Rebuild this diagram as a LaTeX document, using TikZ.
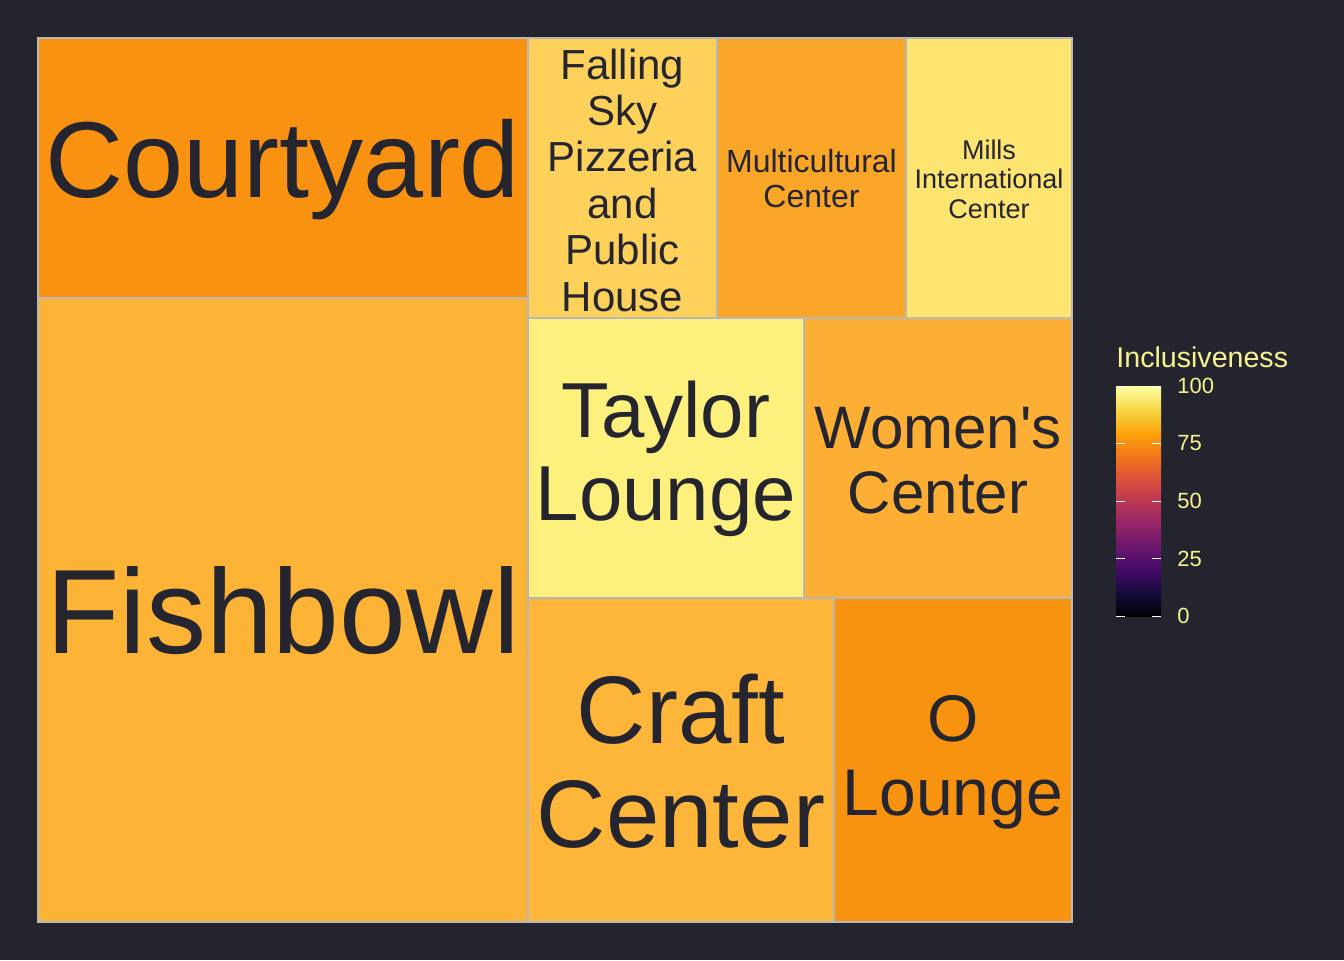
\documentclass[tikz,border=0pt]{standalone}
\usepackage{fontspec}
\setmainfont{Liberation Sans}
\usetikzlibrary{calc}
\definecolor{bg}{HTML}{24242E}
\definecolor{ink}{HTML}{25252F}
\definecolor{keyink}{HTML}{F7F48F}
\definecolor{edge}{HTML}{B8B8B8}
% tile fills
\definecolor{courtyardfill}{HTML}{F89210}
\definecolor{fishbowlfill}{HTML}{FDB335}
\definecolor{fallingfill}{HTML}{FED15B}
\definecolor{multifill}{HTML}{F9A527}
\definecolor{millsfill}{HTML}{FEE571}
\definecolor{taylorfill}{HTML}{FEF07C}
\definecolor{womensfill}{HTML}{FCAF34}
\definecolor{craftfill}{HTML}{FDB53A}
\definecolor{oloungefill}{HTML}{F8930F}
% inferno stops for the colour bar
\definecolor{ic0}{HTML}{000004}
\definecolor{ic1}{HTML}{160B39}
\definecolor{ic2}{HTML}{420A68}
\definecolor{ic3}{HTML}{6A176E}
\definecolor{ic4}{HTML}{932667}
\definecolor{ic5}{HTML}{BC3754}
\definecolor{ic6}{HTML}{DD513A}
\definecolor{ic7}{HTML}{F37819}
\definecolor{ic8}{HTML}{FCA50A}
\definecolor{ic9}{HTML}{F6D746}
\definecolor{ic10}{HTML}{FCFFA4}
\newcommand{\tile}[5]{\filldraw[fill=#5, draw=edge, line width=0.6pt] (#1,#2) rectangle (#3,#4);}
\newcommand{\fsz}[2]{\fontsize{#1}{#2}\selectfont}

\begin{document}
\begin{tikzpicture}[x=0.5pt, y=-0.5pt,
                    lbl/.style={text=ink, align=center, inner sep=0pt, anchor=base},
                    key/.style={text=keyink, inner sep=0pt}]
\fill[bg] (0,0) rectangle (1344,960);
\useasboundingbox (0,0) rectangle (1344,960);

\tile{38}{38}{528}{298}{courtyardfill}
\tile{38}{298}{528}{922}{fishbowlfill}
\tile{528}{38}{717}{318}{fallingfill}
\tile{717}{38}{906}{318}{multifill}
\tile{906}{38}{1072}{318}{millsfill}
\tile{528}{318}{804}{598}{taylorfill}
\tile{804}{318}{1072}{598}{womensfill}
\tile{528}{598}{834}{922}{craftfill}
\tile{834}{598}{1072}{922}{oloungefill}

% labels sit on the baseline of their last line
\node[lbl, font=\fsz{54}{58}] (courtyard) at (283,197) {Courtyard};
\node[lbl, font=\fsz{60}{64}] (fishbowl) at (283,653) {Fishbowl};
\node[lbl, font=\fsz{21}{23.2}] (fallingsky) at (622.5,311) {Falling\\Sky\\Pizzeria\\and\\Public\\House};
\node[lbl, font=\fsz{16}{17.5}] (multicultural) at (811.5,207) {Multicultural\\Center};
\node[lbl, font=\fsz{13.5}{14.75}] (mills) at (989,218) {Mills\\International\\Center};
\node[lbl, font=\fsz{39}{41.5}] (taylor) at (666,520) {Taylor\\Lounge};
\node[lbl, font=\fsz{30}{32.5}] (womens) at (938,513) {Women\textquotesingle s\\Center};
\node[lbl, font=\fsz{48}{52}] (craft) at (681,847) {Craft\\Center};
\node[lbl, font=\fsz{33}{37}] (olounge) at (953,815) {O\\Lounge};

% colour bar
\node[key, anchor=base west, font=\fsz{14.3}{16}] (keytitle) at (1116,367) {Inclusiveness};
\foreach \i [evaluate=\i as \j using int(\i+1)] in {0,...,9}
  \shade[bottom color=ic\i, top color=ic\j] (1116,{616-23*\i+0.3}) rectangle (1161,{593-23*\i});
\foreach \v in {0,25,50,75,100} {
  \draw[white, line width=0.5pt] (1116,{616-2.3*\v}) -- (1125,{616-2.3*\v});
  \draw[white, line width=0.5pt] (1152,{616-2.3*\v}) -- (1161,{616-2.3*\v});
  \node[key, anchor=west, font=\fsz{11}{12}] (tick\v) at (1177,{616-2.3*\v}) {\v};
}
\end{tikzpicture}
\end{document}
